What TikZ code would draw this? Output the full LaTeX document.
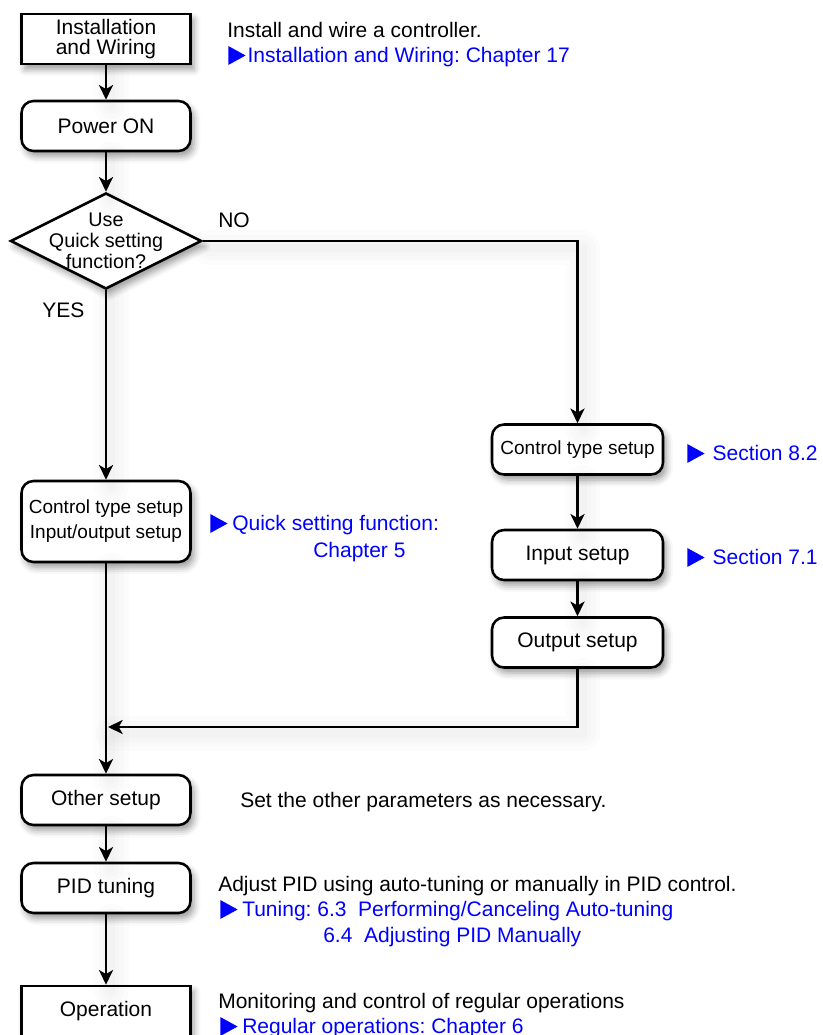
\documentclass[tikz,border=0pt]{standalone}
\usepackage{fontspec}
\setmainfont{Liberation Sans}
\usetikzlibrary{shapes.geometric,arrows.meta,shadows.blur}
\definecolor{linkblue}{RGB}{0,0,255}
\newcommand{\tri}{\tikz[baseline=0pt]\fill[linkblue] (0pt,-2.25pt) -- (0pt,12pt) -- (13pt,4.875pt) -- cycle;}
\frenchspacing
\begin{document}
\begin{tikzpicture}[x=0.75pt,y=-0.75pt,
  every node/.style={font=\fontsize{15.75pt}{15.5pt}\selectfont},
  sh/.style={blur shadow={shadow xshift=2.5pt, shadow yshift=-4pt, shadow blur radius=5pt, shadow opacity=40}},
  box/.style={draw, line width=1.9pt, fill=white, minimum width=126.75pt, minimum height=37.5pt, inner sep=0pt, align=center, sh},
  rbox/.style={box, rounded corners=9pt},
  small/.style={font=\fontsize{14.25pt}{18.75pt}\selectfont},
  dia/.style={diamond, draw, line width=1.9pt, fill=white, minimum width=143.25pt, minimum height=72pt, inner sep=0pt, sh},
  halo/.style={preaction={draw, -, line width=#1, black, opacity=0.012, line join=round, line cap=round, transform canvas={shift={(4pt,-5pt)}}}},
  conn/.style={line width=1.9pt, halo=26pt, halo=19pt, halo=12pt, halo=6pt},
  arr/.style={conn, -{Stealth[length=11pt,width=10.5pt,inset=3pt]}},
  txt/.style={anchor=base west, inner sep=0pt},
  link/.style={txt, text=linkblue}]
\useasboundingbox (0,0) rectangle (822,1035);
\clip (0,0) rectangle (822,1035);

% nodes
\node[box] (inst) at (106,39) {Installation\\and Wiring};
\node[rbox] (power) at (106,126) {Power ON};
\node[dia] (dec) at (106,241) {};
\node[align=center, inner sep=0pt, font=\fontsize{14.8pt}{15.75pt}\selectfont] (declabel) at (106,241) {Use\\Quick setting\\function?};
\node[rbox, small, minimum height=60.75pt] (qs) at (106,521.5) {Control type setup\\Input/output setup};
\node[rbox, small, minimum width=128.25pt] (ctrl) at (577.5,449.5) {Control type setup};
\node[rbox, minimum width=128.25pt] (input) at (577.5,555) {Input setup};
\node[rbox, minimum width=128.25pt] (output) at (577.5,642.5) {Output setup};
\node[rbox] (other) at (106,800) {Other setup};
\node[rbox] (pid) at (106,888) {PID tuning};
\node[box] (oper) at (106,1011) {Operation};

% connectors
\coordinate (merge) at (108,727);
\draw[arr] (inst) -- (power);
\draw[arr] (power) -- (dec);
\draw[arr] (dec.south) -- (qs.north);
\draw[arr] (dec.east) -| (ctrl.north);
\draw[arr] (ctrl) -- (input);
\draw[arr] (input) -- (output);
\draw[arr] (output.south) |- (merge);
\draw[arr] (qs.south) -- (other.north);
\draw[arr] (other) -- (pid);
\draw[arr] (pid) -- (oper);

% labels
\node[txt] (no) at (218,227) {NO};
\node[txt] (yes) at (42,317) {YES};

\node[txt] (t1) at (227,37) {Install and wire a controller.};
\node[link] (l1) at (228,62) {\tri\hspace{1.5pt}Installation and Wiring: Chapter 17};
\node[link] (l2) at (687,460) {\tri\hspace{6pt}Section 8.2};
\node[link] (l3) at (687,564) {\tri\hspace{6pt}Section 7.1};
\node[link] (l4) at (210,530) {\tri\hspace{3.5pt}Quick setting function:};
\node[link] (l4b) at (313,557) {Chapter 5};
\node[txt] (t2) at (240,807) {Set the other parameters as necessary.};
\node[txt] (t3) at (218,891) {Adjust PID using auto-tuning or manually in PID control.};
\node[link] (l5) at (220,916) {\tri\hspace{3.5pt}Tuning: 6.3\ \ Performing/Canceling Auto-tuning};
\node[link] (l5b) at (323,942) {6.4\ \ Adjusting PID Manually};
\node[txt] (t4) at (218,1008) {Monitoring and control of regular operations};
\node[link] (l6) at (220,1033) {\tri\hspace{3.5pt}Regular operations: Chapter 6};
\end{tikzpicture}
\end{document}
